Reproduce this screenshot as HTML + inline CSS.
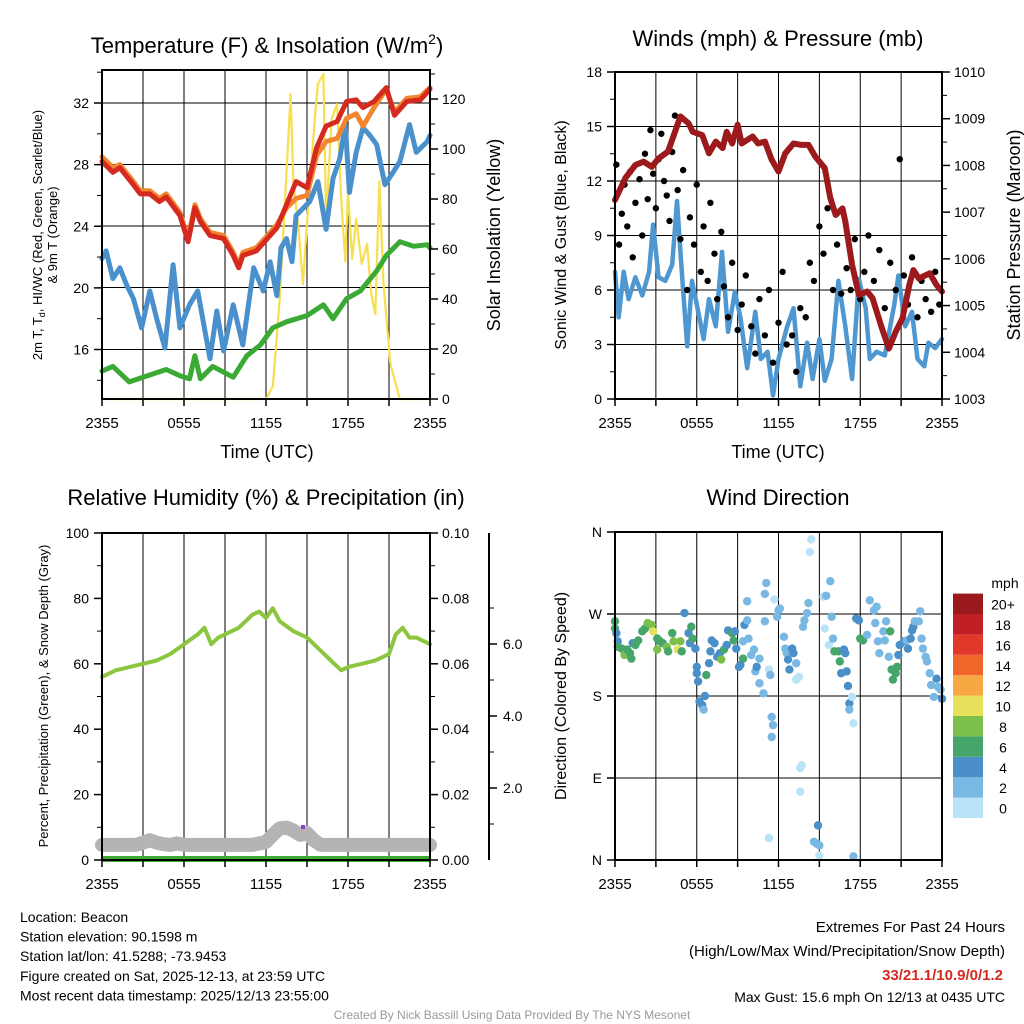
<!DOCTYPE html>
<html><head><meta charset="utf-8"><style>
body{margin:0;background:#fff;}
svg{display:block;font-family:"Liberation Sans",sans-serif;}
</style></head><body>
<svg id="s" width="1024" height="1024" viewBox="0 0 1024 1024"></svg>
<script>
// ---------- DATA ----------
const tempHours=[0,0.8,1.3,2.3,2.8,3.5,4.2,4.7,5.7,6.3,6.8,7.2,7.9,8.9,9.6,10,10.3,11.3,12,12.8,13.5,14.2,15,15.7,16.4,17.2,17.9,18.6,19.1,19.9,20.8,21.4,22.3,23.3,24];
const tempRed=[28.2,27.5,27.8,26.7,26.1,26.1,25.6,25.9,24.7,23,25.2,24.3,23.4,23.2,22.1,21.3,22.1,22.4,23.1,23.9,25.4,26.9,26.5,29.1,30.5,30.8,32.1,32.2,31.7,32.1,33,31.2,32.1,32.2,32.9];
const tempOrange=[28.5,27.8,28,26.9,26.3,26.3,25.8,26.1,24.9,23.2,25.4,24.5,23.6,23.4,22.3,21.5,22.3,22.6,23.3,24.1,25.2,25.8,26,28.6,29.5,29.7,31,31.3,30.5,31.7,32.9,31.4,32.3,32.4,33];
const tempBlueHours=[0,0.3,0.8,1.3,1.8,2.3,2.9,3.5,4,4.6,5.2,5.7,6.4,7,7.9,8.4,8.9,9.6,10.3,11.1,11.8,12.3,12.8,13.1,13.5,13.9,14.2,15.2,15.8,16.4,16.9,17.4,17.8,18.1,18.6,19.1,19.6,20.1,20.7,21.3,21.8,22.5,23,23.8,24];
const tempBlue=[21.9,22.4,20.6,21.3,20.2,19.3,17.4,19.8,18,16.1,21.5,17.4,18.9,19.8,15.4,18.5,15.9,18.9,16.3,21.3,19.8,21.7,19.5,22.6,23.2,21.7,24.7,25.6,26.9,23.8,27.1,28.4,30.6,26.2,28.8,30.4,29.9,29.3,26.7,27.5,28.2,30.6,28.8,29.5,29.9];
const tempGreenHours=[0,0.8,2,3,4.7,5.7,6.4,6.8,7.2,8.1,9.6,10.6,11.6,12.5,13.5,15,16.2,16.9,17.9,18.9,20.1,20.8,21.8,22.8,23.8,24];
const tempGreen=[14.6,14.9,13.9,14.2,14.7,14.3,14.1,15.6,14.1,14.9,14.2,15.6,16.3,17.4,17.8,18.2,18.9,18,19.3,19.8,21.1,22.1,23,22.7,22.8,22.6];
const solarHours=[0,12,12.5,13,13.4,13.8,14,14.4,14.7,15.1,15.6,15.8,16.2,16.4,16.8,17.2,17.5,17.8,18,18.3,18.6,19,19.4,19.7,20,20.3,20.6,21.1,21.8,24];
const solarVals=[0,0,5,40,80,122,87,67,46,78,114,126,130,71,112,118,80,55,83,56,72,54,62,42,34,87,46,14,0,0];
const windHours=[0,0.27,0.64,1,1.5,2,2.5,2.8,3.2,3.7,4.2,4.55,4.9,5.3,5.65,6,6.5,6.9,7.4,7.85,8.3,8.8,9.2,9.7,10.3,10.7,11.2,11.6,12,12.6,13.1,13.6,14.1,14.5,15,15.4,15.9,16.4,16.9,17.4,17.9,18.4,18.7,19.2,19.8,20.5,20.8,21.3,21.8,22.2,22.7,23,23.5,24];
const windVals=[7,4.5,7,5.5,6.7,5.7,7,9.6,6.7,6.5,7.4,10.9,7,2.9,6.5,5.2,3.3,5.5,4,8.1,3.7,5.9,4.5,1.7,4.8,2.2,2.6,0.2,2.2,3.9,5,0.7,3.1,1.1,3.3,1,2.2,6.5,4,1.1,6.6,5,2.2,2.6,2.4,5.2,6.8,4,4.8,2.2,1.8,3.1,2.8,3.3];
const presHours=[0,0.76,1.5,2.1,2.7,3.2,3.9,4.4,4.8,5.4,5.7,6.4,6.9,7.4,7.9,8.2,8.6,9,9.3,10.1,10.5,11,11.5,12,12.5,13.1,13.7,14.2,14.7,15.4,15.8,16.2,16.7,16.9,17.4,17.9,18.5,18.9,19.6,20.1,20.6,21.1,21.6,21.9,22.3,23.1,23.6,24];
const presVals=[1007.26,1007.73,1008.01,1008.08,1007.97,1008.15,1008.3,1008.72,1009.05,1008.9,1008.72,1008.65,1008.26,1008.51,1008.37,1008.72,1008.47,1008.87,1008.47,1008.62,1008.47,1008.51,1008.12,1007.87,1008.26,1008.47,1008.44,1008.44,1008.19,1007.94,1007.3,1006.94,1007.08,1006.8,1005.87,1005.23,1005.3,1005.16,1004.51,1004.08,1004.44,1004.73,1005.44,1005.76,1005.58,1005.69,1005.44,1005.3];
const gustHours=[0.1,0.3,0.5,0.7,0.9,1.1,1.3,1.5,1.8,2,2.2,2.4,2.6,2.8,3,3.2,3.4,3.6,3.8,4,4.2,4.4,4.6,4.8,5,5.3,5.5,5.8,6,6.3,6.5,6.8,7,7.3,7.5,7.8,8,8.3,8.6,9,9.3,9.6,10,10.3,10.6,11,11.3,11.6,12,12.3,12.6,13,13.3,13.6,14,14.3,14.6,15,15.3,15.6,16,16.3,16.6,17,17.3,17.6,18,18.3,18.6,19,19.4,19.8,20.2,20.6,20.9,21.2,21.5,21.8,22.2,22.5,22.8,23.2,23.5,23.8];
const gustVals=[12.9,8.5,10.2,11.8,9.5,12.5,7.8,10.8,12.1,9,13.5,11,14.8,12.4,10.5,13.2,14.6,12,11.2,9.8,13.6,15.6,11.5,8.8,12.6,6,10,8.5,11.8,7,9.5,6.5,10.8,8,5.5,9.2,6.2,4.5,7.5,3.8,5.2,6.8,4,2.5,5.5,3.5,6,2,4.2,7,3,3.5,1.5,5,4.5,7.5,6.5,9.5,8,10.5,6,8.5,5.8,7.2,6,8.8,5.5,7,9,6.5,8.2,5,7.5,6,13.2,6.8,5.2,7.8,4.5,6.5,5.5,4.8,7,5.2];
const rhHours=[0,1,2,3,4,5,6,7,7.5,8,8.5,9,10,11,11.5,12,12.5,13,14,15,16,17,17.5,18,19,20,21,21.5,22,22.5,23,24];
const rhVals=[56,58,59,60,61,63,66,69,71,66,68,69,71,75,76,74,77,73,70,68,64,60,58,59,60,61,63,69,71,68,68,66];
const snowHours=[0,2.5,3,3.5,4,4.5,5,5.5,6,11,12,12.5,13,13.5,14,14.5,15,15.5,16,24];
const snowVals=[0.42,0.42,0.48,0.55,0.48,0.44,0.42,0.46,0.42,0.42,0.5,0.7,0.88,0.9,0.82,0.7,0.75,0.55,0.42,0.42];
const dirHours=[0,0,0.1,0.2,0.2,0.5,0.7,0.9,1.1,1.2,1.3,1.5,1.7,2,2.2,2.4,2.7,2.8,3.1,3.1,3.3,3.5,3.8,3.9,4.2,4.3,4.6,4.8,4.9,5.1,5.4,5.5,5.6,5.7,5.9,6,6,6.1,6.2,6.4,6.5,6.6,6.7,6.9,7,7.1,7.3,7.5,7.7,7.8,8,8.2,8.3,8.6,8.7,8.8,8.9,9.1,9.2,9.4,9.4,9.5,9.7,9.7,9.8,10,10.2,10.3,10.4,10.6,10.6,10.9,11,11,11.1,11.3,11.3,11.4,11.5,11.6,11.5,11.7,11.9,12,12.1,12.4,12.5,12.6,12.7,12.8,13,13.1,13.3,13.3,13.5,13.6,13.7,13.6,13.8,13.9,14.1,14.2,14.3,14.4,14.6,14.8,14.9,15,15,15.3,15.4,15.5,15.7,15.8,15.9,16,16.1,16.4,16.5,16.6,16.8,16.9,17,17.1,17.2,17.2,17.4,17.5,17.5,17.7,17.9,18,18.2,18.5,18.7,19,19.1,19.2,19.3,19.4,19.7,19.8,19.9,20.1,20.2,20.3,20.4,20.6,20.7,20.8,20.9,21.2,21.4,21.5,21.7,21.8,21.9,22,22.3,22.4,22.5,22.6,22.8,22.9,23.1,23.2,23.4,23.6,23.7,23.9,24];
const dirVals=[262,254,249,240,234,232,225,231,227,221,238,236,241,251,254,260,258,251,243,231,240,238,234,229,249,240,231,240,229,271,249,238,256,243,232,212,205,196,174,170,165,180,203,216,229,241,238,223,227,220,231,236,252,249,241,251,232,212,214,221,240,258,263,284,243,225,231,207,212,194,221,183,262,292,304,209,24,203,157,148,135,286,267,274,276,245,232,227,220,209,232,227,216,198,201,101,104,75,256,263,271,282,338,352,20,18,38,16,5,289,254,290,236,306,267,243,229,229,218,205,231,227,207,191,172,165,179,150,4,265,263,243,241,247,285,274,260,278,240,227,251,241,262,223,251,209,198,205,212,225,236,240,241,232,243,252,256,262,262,273,243,232,223,218,205,192,179,199,190,187,177];
const dirSpeeds=[7,7,5,5,7,7,9,7,7,7,5,7,7,7,7,9,9,11,7,9,7,7,9,7,7,9,11,9,7,5,5,5,7,7,5,5,5,5,5,5,3,5,7,5,5,5,5,5,5,9,7,5,5,7,7,5,5,5,5,7,3,5,3,3,3,3,3,3,5,3,3,3,3,3,3,1,1,3,3,3,3,1,3,3,3,3,3,3,5,5,5,5,3,1,1,1,1,1,3,3,3,3,1,1,3,3,5,3,1,1,1,3,1,3,3,3,7,7,7,5,5,5,5,5,5,3,1,1,3,5,5,7,7,3,3,3,3,3,3,3,3,3,3,3,7,7,7,7,7,5,5,5,3,5,5,5,5,3,3,3,3,3,3,3,3,3,3,5,3,3,5];
const speedColors=["#b9e3f7","#7ab8e4","#4a8fc7","#46a56a","#7cc04b","#e6e05a","#f7a843","#f06529","#e0392b","#c01f26","#99191c"];
const speedLabels=["0","2","4","6","8","10","12","14","16","18","20+"];
const timeLabels=["2355","0555","1155","1755","2355"];

// ---------- HELPERS ----------
const S=document.getElementById('s');const NS="http://www.w3.org/2000/svg";
function mk(tag,at,parent){const e=document.createElementNS(NS,tag);for(const k in at)e.setAttribute(k,at[k]);(parent||S).appendChild(e);return e;}
function txt(x,y,s,size,anchor,extra){const e=mk('text',Object.assign({x:x,y:y,'font-size':size,'text-anchor':anchor||'middle',fill:'#000'},extra||{}));e.textContent=s;return e;}
function lin(a,b){return v=>b[0]+(v-a[0])*(b[1]-b[0])/(a[1]-a[0]);}
function path(xs,ys,fx,fy,col,w){let d='';xs.forEach((t,i)=>{d+=(i?'L':'M')+fx(t).toFixed(1)+' '+fy(ys[i]).toFixed(1);});return mk('path',{d:d,fill:'none',stroke:col,'stroke-width':w,'stroke-linejoin':'round','stroke-linecap':'round'});}
function frame(x0,y0,x1,y1,hy){
  for(let h=3;h<24;h+=3){const x=x0+(x1-x0)*h/24;mk('line',{x1:x,y1:y0,x2:x,y2:y1,stroke:'#000','stroke-width':1});}
  hy.forEach(y=>mk('line',{x1:x0,y1:y,x2:x1,y2:y,stroke:'#000','stroke-width':1}));
}
function box(x0,y0,x1,y1){mk('rect',{x:x0,y:y0,width:x1-x0,height:y1-y0,fill:'none',stroke:'#000','stroke-width':2});}
function xTicks(x0,x1,y1){
  for(let h=0;h<=24;h+=3){const x=x0+(x1-x0)*h/24;mk('line',{x1:x,y1:y1,x2:x,y2:y1+7,stroke:'#000','stroke-width':1.5});}
  timeLabels.forEach((l,i)=>{const t=txt(x0+(x1-x0)*i/4,y1+29,l,15);});
}
function leftTicks(x,vals,fy,lab,minor){vals.forEach((v,i)=>{const y=fy(v);mk('line',{x1:x-8,y1:y,x2:x,y2:y,stroke:'#000','stroke-width':1.5});const t=txt(x-13,y+5,lab[i],14,'end');});
  (minor||[]).forEach(v=>{const y=fy(v);mk('line',{x1:x-5,y1:y,x2:x,y2:y,stroke:'#000','stroke-width':1});});}
function rightTicks(x,vals,fy,lab,minor){vals.forEach((v,i)=>{const y=fy(v);mk('line',{x1:x,y1:y,x2:x+8,y2:y,stroke:'#000','stroke-width':1.5});const t=txt(x+12,y+5,lab[i],14,'start');});
  (minor||[]).forEach(v=>{const y=fy(v);mk('line',{x1:x,y1:y,x2:x+5,y2:y,stroke:'#000','stroke-width':1});});}
function rot(x,y,s,size,name){const t=txt(x,y,s,size,'middle',{transform:`rotate(-90 ${x} ${y})`});return t;}

// ---------- PANEL 1 ----------
{const x0=102,x1=430,y0=70,y1=399;
 const fx=lin([0,24],[x0,x1]);const fy=lin([16,32],[349.5,103]);const fs=lin([0,120],[399,99]);
 frame(x0,y0,x1,y1,[103,164.5,226,287.5,349.5]);
 let p;
 p=path(solarHours,solarVals,fx,fs,'#f7df50',2.2);
 p=path(tempGreenHours,tempGreen,fx,fy,'#3aaa35',5);
 p=path(tempBlueHours,tempBlue,fx,fy,'#4a90cc',5);
 p=path(tempHours,tempOrange,fx,fy,'#f3852f',5);
 p=path(tempHours,tempRed,fx,fy,'#d42a20',5);
 box(x0,y0,x1,y1);
 leftTicks(x0,[16,20,24,28,32],fy,['16','20','24','28','32'],[14,18,22,26,30,34]);
 rightTicks(x1,[0,20,40,60,80,100,120],fs,['0','20','40','60','80','100','120'],[10,30,50,70,90,110,130]);
 xTicks(x0,x1,y1);
 let t=txt(267,53,'',22);t.innerHTML='Temperature (F) &amp; Insolation (W/m<tspan dy="-9" font-size="14">2</tspan><tspan dy="9">)</tspan>';
 t=txt(267,458,'Time (UTC)',18);
 const g=mk('text',{x:0,y:0,'font-size':13,'text-anchor':'middle',transform:'translate(42 235) rotate(-90)'});
 g.innerHTML='<tspan x="0" dy="0">2m T, T<tspan font-size="9" dy="3">d</tspan><tspan dy="-3">, HI/WC (Red, Green, Scarlet/Blue)</tspan></tspan><tspan x="0" dy="15">&amp; 9m T (Orange)</tspan>';
 
 rot(500,235,'Solar Insolation (Yellow)',18,'y2-axis-title');
}
// ---------- PANEL 2 ----------
{const x0=615,x1=942,y0=72,y1=399;
 const fx=lin([0,24],[x0,x1]);const fy=lin([0,18],[399,72]);const fp=lin([1003,1010],[399,72]);
 frame(x0,y0,x1,y1,[126.5,181,235.5,290,344.5]);
 let p=path(windHours,windVals,fx,fy,'#4f97d0',4.5);
 gustHours.forEach((h,i)=>{const c=mk('circle',{cx:fx(h),cy:fy(gustVals[i]),r:3.2,fill:'#000'});});
 p=path(presHours,presVals,fx,fp,'#9c1a1c',6);
 box(x0,y0,x1,y1);
 leftTicks(x0,[0,3,6,9,12,15,18],fy,['0','3','6','9','12','15','18'],[1.5,4.5,7.5,10.5,13.5,16.5]);
 rightTicks(x1,[1003,1004,1005,1006,1007,1008,1009,1010],fp,['1003','1004','1005','1006','1007','1008','1009','1010'],[1003.5,1004.5,1005.5,1006.5,1007.5,1008.5,1009.5]);
 xTicks(x0,x1,y1);
 let t=txt(778,46,'Winds (mph) & Pressure (mb)',22);
 t=txt(778,458,'Time (UTC)',18);
 rot(566,235,'Sonic Wind & Gust (Blue, Black)',16,'y-axis-title');
 rot(1020,235,'Station Pressure (Maroon)',18,'y2-axis-title');
}
// ---------- PANEL 3 ----------
{const x0=102,x1=430,y0=533,y1=860;
 const fx=lin([0,24],[x0,x1]);const fy=lin([0,100],[860,533]);const fsn=lin([0,2],[860,788]);
 frame(x0,y0,x1,y1,[]);
 let p=path(snowHours,snowVals,fx,fsn,'#b4b4b4',14);
 p=mk('line',{x1:x0,y1:859,x2:x1,y2:859,stroke:'#3aaa35','stroke-width':6});
 p=path(rhHours,rhVals,fx,fy,'#8cc63f',4);
 p=mk('rect',{x:301,y:825,width:4,height:4,fill:'#8a3fc8'});
 box(x0,y0,x1,y1);
 leftTicks(x0,[0,20,40,60,80,100],fy,['0','20','40','60','80','100'],[10,30,50,70,90]);
 rightTicks(x1,[0,20,40,60,80,100],fy,['0.00','0.02','0.04','0.06','0.08','0.10'],[10,30,50,70,90]);
 mk('line',{x1:489,y1:533,x2:489,y2:860,stroke:'#000','stroke-width':2});
 [2,4,6].forEach(v=>{const y=fsn(v);mk('line',{x1:489,y1:y,x2:497,y2:y,stroke:'#000','stroke-width':1.5});const t=txt(503,y+5,v.toFixed(1),14,'start');});
 [1,3,5,7].forEach(v=>{const y=fsn(v);mk('line',{x1:489,y1:y,x2:494,y2:y,stroke:'#000','stroke-width':1});});
 xTicks(x0,x1,y1);
 let t=txt(266,505,'Relative Humidity (%) & Precipitation (in)',22);
 rot(48,696,'Percent, Precipitation (Green), & Snow Depth (Gray)',13,'y-axis-title');
}
// ---------- PANEL 4 ----------
{const x0=615,x1=942,y0=532,y1=860;
 const fx=lin([0,24],[x0,x1]);const fy=lin([0,360],[860,532]);
 frame(x0,y0,x1,y1,[614,696,778]);
 dirHours.forEach((h,i)=>{const ci=Math.min(10,Math.floor(dirSpeeds[i]/2));const c=mk('circle',{cx:fx(h),cy:fy(dirVals[i]),r:4.2,fill:speedColors[ci]});});
 box(x0,y0,x1,y1);
 leftTicks(x0,[0,90,180,270,360],fy,['N','E','S','W','N']);
 xTicks(x0,x1,y1);
 speedColors.forEach((c,i)=>{const y=818-(i+1)*20.4;const r=mk('rect',{x:953,y:y,width:30,height:20.4,fill:c});
   const t=txt(1003,y+16,speedLabels[i],14);});
 let t=txt(1005,588,'mph',14);
 t=txt(778,505,'Wind Direction',22);
 rot(566,696,'Direction (Colored By Speed)',16,'y-axis-title');
}
// ---------- FOOTER ----------
['Location: Beacon','Station elevation: 90.1598 m','Station lat/lon: 41.5288; -73.9453','Figure created on Sat, 2025-12-13, at 23:59 UTC','Most recent data timestamp: 2025/12/13 23:55:00'].forEach((s,i)=>{const t=txt(20,922+i*19.6,s,14,'start');});
let t=txt(1005,932,'Extremes For Past 24 Hours',15,'end');
t=txt(1005,956,'(High/Low/Max Wind/Precipitation/Snow Depth)',15,'end');
t=txt(1003,980,'33/21.1/10.9/0/1.2',15,'end',{fill:'#d42a20','font-weight':'bold'});
t=txt(1005,1002,'Max Gust: 15.6 mph On 12/13 at 0435 UTC',14,'end');
t=txt(512,1019,'Created By Nick Bassill Using Data Provided By The NYS Mesonet',12,'middle',{fill:'#999'});
</script>
</body></html>
